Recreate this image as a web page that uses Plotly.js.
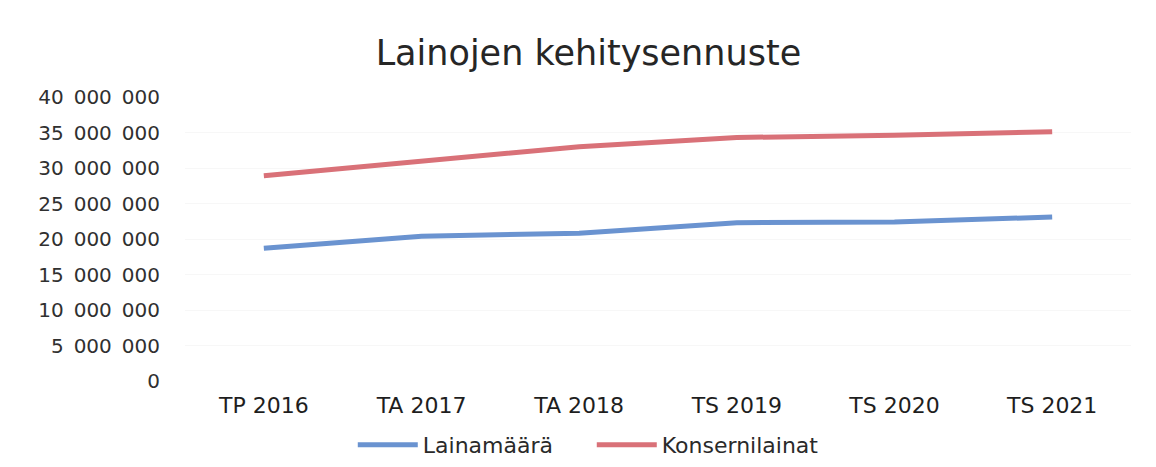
<!DOCTYPE html>
<html>
<head>
<meta charset="utf-8">
<script src="https://cdn.plot.ly/plotly-3.0.1.min.js"></script>
<style>html,body{margin:0;padding:0;background:#fff;}#chart{width:1156px;height:467px;}</style>
</head>
<body>
<div id="chart"></div>
<script>
var categories = ["TP 2016", "TA 2017", "TA 2018", "TS 2019", "TS 2020", "TS 2021"];
var lainamaara = [18700000, 20400000, 20800000, 22300000, 22400000, 23100000];
var konsernilainat = [28900000, 30900000, 33000000, 34300000, 34600000, 35100000];
var tickValues = [0, 5000000, 10000000, 15000000, 20000000, 25000000, 30000000, 35000000, 40000000];
var tickLabels = ["0", "5\u2002000\u2002000", "10\u2002000\u2002000", "15\u2002000\u2002000", "20\u2002000\u2002000",
                  "25\u2002000\u2002000", "30\u2002000\u2002000", "35\u2002000\u2002000", "40\u2002000\u2002000"];

var traces = [
  {x: categories, y: lainamaara, name: "Lainamäärä", type: "scatter", mode: "lines",
   line: {color: "#6a93d0", width: 5}},
  {x: categories, y: konsernilainat, name: "Konsernilainat", type: "scatter", mode: "lines",
   line: {color: "#d97178", width: 5}}
];

var layout = {
  width: 1156, height: 467,
  margin: {l: 185, r: 25, t: 97, b: 86, autoexpand: false},
  paper_bgcolor: "#fff", plot_bgcolor: "#fff",
  title: {text: "Lainojen kehitysennuste", x: 0.509, xanchor: "center", y: 0.887, yanchor: "middle",
          font: {family: "DejaVu Sans", size: 35, color: "#262626"}},
  xaxis: {type: "category", range: [-0.5, 5.5], showgrid: false, zeroline: false, showline: false, ticks: "",
          tickfont: {family: "DejaVu Sans", size: 22, color: "#1e1e1e"}, ticklabelstandoff: 9},
  yaxis: {range: [0, 40000000], tickvals: tickValues, ticktext: tickLabels,
          showgrid: true, gridcolor: "#f7f7f7", zeroline: false, showline: false, ticks: "",
          tickfont: {family: "DejaVu Sans", size: 20, color: "#303030"}, ticklabelstandoff: 24},
  showlegend: true,
  legend: {orientation: "h", x: 0.430, xanchor: "center", y: -0.225, yanchor: "middle",
           entrywidth: 164, entrywidthmode: "pixels",
           font: {family: "DejaVu Sans", size: 22, color: "#2a2a2a"}, itemwidth: 60, tracegroupgap: 0}
};

Plotly.newPlot("chart", traces, layout, {displayModeBar: false, staticPlot: true});
</script>
</body>
</html>
